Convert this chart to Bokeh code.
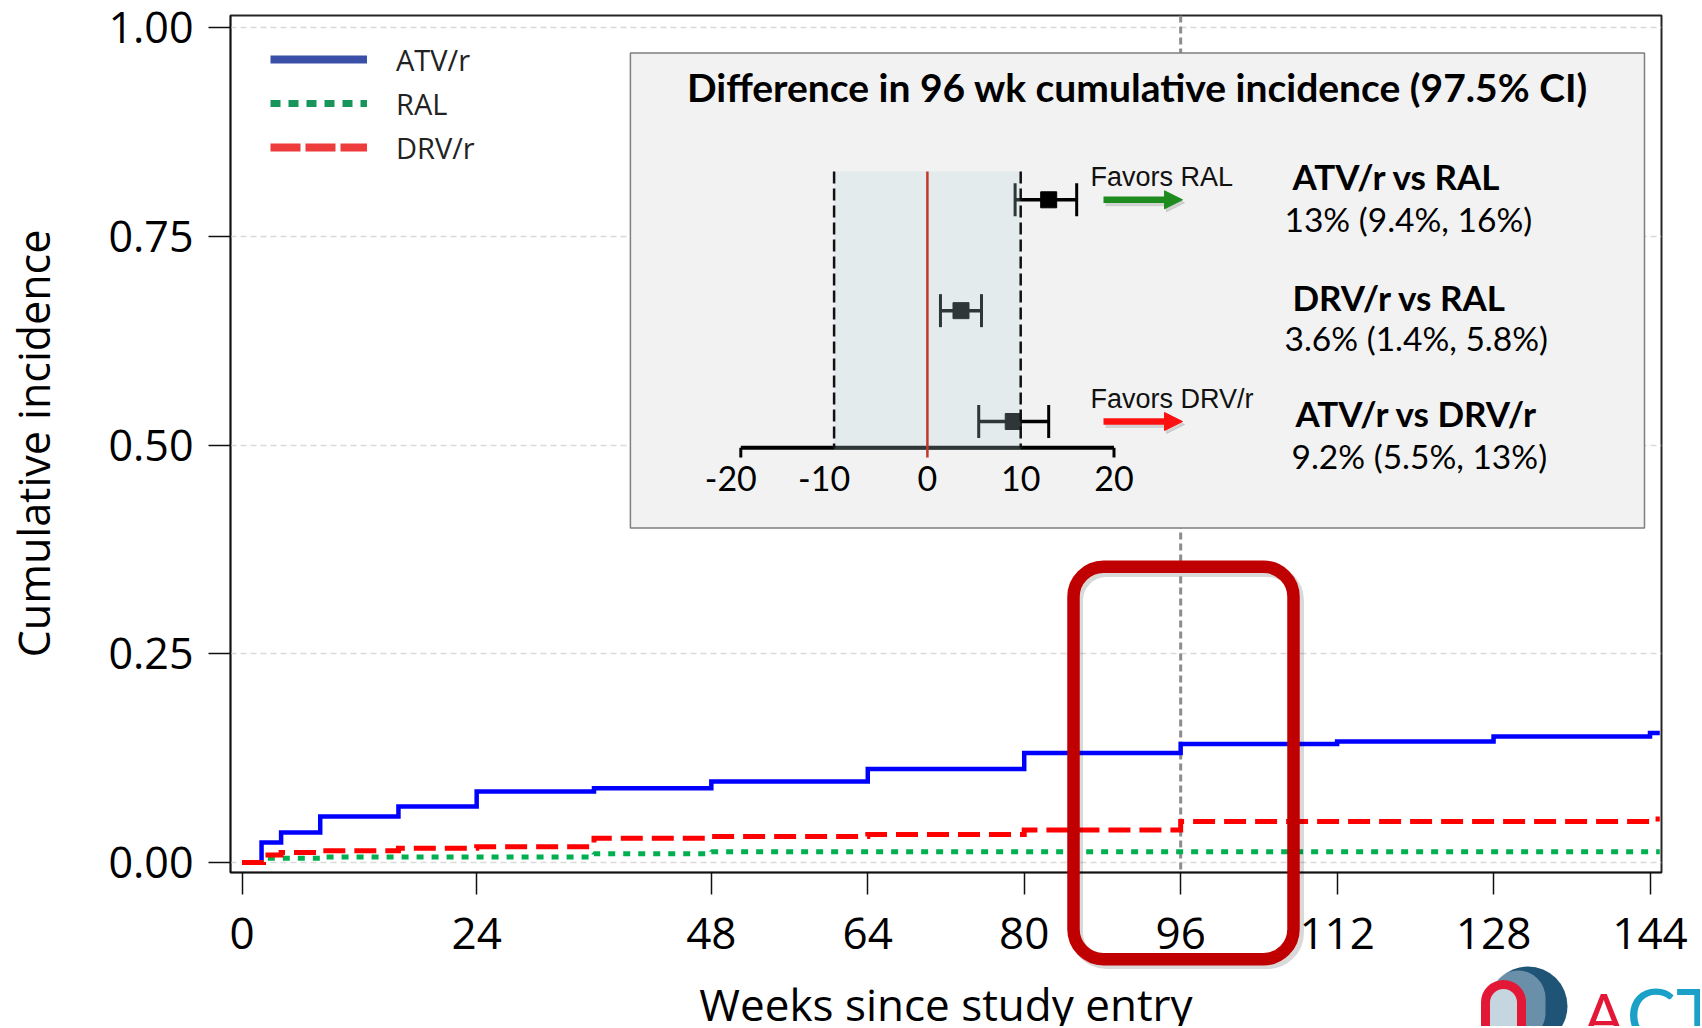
import math
from bokeh.plotting import figure
from bokeh.models import (Range1d, FixedTicker, PrintfTickFormatter, Span, BoxAnnotation,
                          Legend, LegendItem, Arrow, NormalHead)
from bokeh.core.properties import value
from bokeh.embed import file_html
from bokeh.resources import INLINE

# ---------------- data ----------------
atv_weeks = [0, 2, 4, 8, 16, 24, 36, 48, 64, 80, 96, 112, 128, 144, 145]
atv_inc = [0, 0.024, 0.036, 0.055, 0.067, 0.085, 0.089, 0.097, 0.112, 0.131, 0.142, 0.145, 0.151, 0.155, 0.155]
ral_weeks = [0, 2.5, 8, 36, 48, 145]
ral_inc = [0, 0.005, 0.0065, 0.0105, 0.013, 0.013]
drv_weeks = [0, 2.2, 4, 8, 16, 24, 36, 48, 64, 80, 96, 144, 145]
drv_inc = [0, 0.009, 0.012, 0.014, 0.017, 0.019, 0.029, 0.031, 0.0335, 0.039, 0.049, 0.052, 0.052]

series_names = ["ATV/r", "RAL", "DRV/r"]
x_ticks = [0, 24, 48, 64, 80, 96, 112, 128, 144]
y_ticks = [0, 0.25, 0.5, 0.75, 1.0]
landmark_week = 96
x_title = "Weeks since study entry"
y_title = "Cumulative incidence"

inset_title = "Difference in 96 wk cumulative incidence (97.5% CI)"
comparisons = ["ATV/r vs RAL", "DRV/r vs RAL", "ATV/r vs DRV/r"]
diff_est = [13, 3.6, 9.2]
diff_lo = [9.4, 1.4, 5.5]
diff_hi = [16, 5.8, 13]
diff_text = ["13% (9.4%, 16%)", "3.6% (1.4%, 5.8%)", "9.2% (5.5%, 13%)"]
margin_lo, margin_hi = -10, 10
forest_ticks = [-20, -10, 0, 10, 20]
favors_text = ["Favors RAL", "Favors DRV/r"]
favors_row = [0, 2]
favors_color = ["#1E8B1E", "#FF1010"]

# ---------------- layout (reference-image pixels) ----------------
W, H = 1700, 1026
FRAME_L, FRAME_R, FRAME_T, FRAME_B = 230, 1661, 15, 872
X0_PX, X_PPW = 241.5, 9.7778
Y0_PX, Y_PPU = 862.0, 835.0
FX0_PX, FX_PPU = 926.9, 9.33
ROW0_PX, ROW_PX = 199.3, 110.85
NAN = float("nan")


def mx(px):
    return (px - X0_PX) / X_PPW


def my(py):
    return (Y0_PX - py) / Y_PPU


def fx(px):
    return (px - FX0_PX) / FX_PPU


def fr(py):
    return (py - ROW0_PX) / ROW_PX


p = figure(width=W, height=H, title=None,
           x_range=Range1d(mx(FRAME_L), mx(FRAME_R)),
           y_range=Range1d(my(FRAME_B), my(FRAME_T)),
           output_backend="svg", toolbar_location=None,
           min_border_left=FRAME_L, min_border_right=W - FRAME_R,
           min_border_top=FRAME_T, min_border_bottom=H - FRAME_B)
p.extra_x_ranges = {"fx": Range1d(fx(FRAME_L), fx(FRAME_R))}
p.extra_y_ranges = {"fy": Range1d(fr(FRAME_B), fr(FRAME_T))}

p.background_fill_color = "white"
p.border_fill_color = "white"
p.outline_line_color = "#262626"
p.outline_line_width = 2

for ax in (p.xaxis, p.yaxis):
    ax.axis_line_color = "#111111"
    ax.axis_line_width = 1.5
    ax.major_tick_line_color = "#111111"
    ax.major_tick_line_width = 1.5
    ax.major_tick_out = 22
    ax.major_tick_in = 0
    ax.minor_tick_line_color = None
    ax.major_label_text_font = "Open Sans"
    ax.major_label_text_color = "black"
    ax.axis_label = None

p.xaxis.ticker = FixedTicker(ticks=x_ticks)
p.xaxis.major_label_text_font_size = "44px"
p.xaxis.major_label_standoff = 23
p.yaxis.ticker = FixedTicker(ticks=y_ticks)
p.yaxis.formatter = PrintfTickFormatter(format="%.2f")
p.yaxis.major_label_text_font_size = "43px"
p.yaxis.major_label_standoff = 15

p.xgrid.visible = False
p.ygrid.ticker = FixedTicker(ticks=y_ticks)
p.ygrid.grid_line_color = "#d9d9d9"
p.ygrid.grid_line_width = 1.5
p.ygrid.grid_line_dash = "6 4"

p.add_layout(Span(location=landmark_week, dimension="height", line_color="#8c8c8c",
                  line_width=3, line_dash="7 4", level="underlay"))

# ---------------- curves ----------------
p.step(atv_weeks, atv_inc, mode="after", line_color="#0000FF", line_width=4.5, line_join="miter")
p.step(ral_weeks, ral_inc, mode="after", line_color="#00B050", line_width=5, line_dash="7 8")
p.step(drv_weeks, drv_inc, mode="after", line_color="#FF0000", line_width=5, line_dash="22 9",
       line_join="miter")

# legend (sample lines in legend colours)
lg1 = p.line([NAN, NAN], [NAN, NAN], line_color="#3A50A8", line_width=8)
lg2 = p.line([NAN, NAN], [NAN, NAN], line_color="#17955B", line_width=7, line_dash="10 8")
lg3 = p.line([NAN, NAN], [NAN, NAN], line_color="#EE3B3B", line_width=8, line_dash="30 5")
legend = Legend(items=[LegendItem(label=series_names[0], renderers=[lg1]),
                       LegendItem(label=series_names[1], renderers=[lg2]),
                       LegendItem(label=series_names[2], renderers=[lg3])],
                location=(40, 703), glyph_width=97, glyph_height=44, label_standoff=29,
                spacing=0, padding=0, margin=0, label_text_font="Open Sans",
                label_text_font_size="29px", label_text_color="#222222",
                background_fill_alpha=0, border_line_alpha=0)
p.add_layout(legend)

# ---------------- inset ----------------
p.quad(left=mx(629.9), right=mx(1644), top=my(52.5), bottom=my(527.5),
       fill_color="#F2F2F2", line_color="#7F7F7F", line_width=1.5)
p.text(x=[mx((629.9 + 1644) / 2)], y=[my(86.5)], text=[inset_title], text_font=value("Lato"),
       text_font_style="bold", text_font_size="39px", text_align="center",
       text_baseline="middle", text_color="black")

FR = dict(x_range_name="fx", y_range_name="fy")
rows = list(range(len(comparisons)))
axis_y = fr(447.3)
p.segment(x0=forest_ticks[0], x1=forest_ticks[-1], y0=axis_y, y1=axis_y,
          line_color="black", line_width=4, **FR)
p.segment(x0=[forest_ticks[0], forest_ticks[-1]], x1=[forest_ticks[0], forest_ticks[-1]],
          y0=axis_y, y1=fr(457), line_color="black", line_width=3, **FR)
p.text(x=forest_ticks, y=fr(478), text=[str(t) for t in forest_ticks],
       x_offset=[-10 if t < 0 else 0 for t in forest_ticks],
       text_font=value("Lato"), text_font_size="34px", text_align="center",
       text_baseline="middle", text_color="black", **FR)

cap_h = 16.5 / ROW_PX
p.segment(x0=diff_lo, x1=diff_hi, y0=rows, y1=rows, line_color="black", line_width=3.5, **FR)
p.segment(x0=diff_lo, x1=diff_lo, y0=[r - cap_h for r in rows], y1=[r + cap_h for r in rows],
          line_color="black", line_width=3, **FR)
p.segment(x0=diff_hi, x1=diff_hi, y0=[r - cap_h for r in rows], y1=[r + cap_h for r in rows],
          line_color="black", line_width=3, **FR)
p.scatter(diff_est, rows, marker="square", size=16, fill_color="black", line_color="black", **FR)

# translucent non-inferiority band drawn over the bars
p.quad(left=margin_lo, right=margin_hi, top=fr(171), bottom=fr(449),
       fill_color=(186, 214, 218), fill_alpha=0.25, line_alpha=0, **FR)
p.segment(x0=[margin_lo, margin_hi], x1=[margin_lo, margin_hi], y0=fr(171), y1=axis_y,
          line_color="#111111", line_width=2.5, line_dash="12 5", **FR)
p.segment(x0=0, x1=0, y0=fr(171), y1=fr(457), line_color="#C0392B", line_width=2.5, **FR)

for txt, row, col in zip(favors_text, favors_row, favors_color):
    p.add_layout(Arrow(end=NormalHead(size=18, fill_color="#999999", line_color="#999999",
                                      fill_alpha=0.35, line_alpha=0.35),
                       x_start=fx(1105), x_end=fx(1184), y_start=row + 3 / ROW_PX,
                       y_end=row + 3 / ROW_PX, line_color="#999999", line_alpha=0.35,
                       line_width=7, **FR))
    p.add_layout(Arrow(end=NormalHead(size=18, fill_color=col, line_color=col),
                       x_start=fx(1103), x_end=fx(1182), y_start=row, y_end=row,
                       line_color=col, line_width=6.5, **FR))
    p.text(x=[fx(1090)], y=[row - 23 / ROW_PX], text=[txt], text_font=value("Liberation Sans"),
           text_font_size="27px", text_align="left", text_baseline="middle",
           text_color="#111111", **FR)

label_dy = [-24, -14, -9]
value_dy = [19, 27, 34]
label_px = [1292, 1292, 1295]
value_px = [1284, 1284, 1291]
p.text(x=[fx(v) for v in label_px], y=[r + d / ROW_PX for r, d in zip(rows, label_dy)],
       text=comparisons, text_font=value("Lato"), text_font_style="bold", text_font_size="35px",
       text_align="left", text_baseline="middle", text_color="black", **FR)
p.text(x=[fx(v) for v in value_px], y=[r + d / ROW_PX for r, d in zip(rows, value_dy)],
       text=diff_text, text_font=value("Lato"), text_font_size="33.5px",
       text_align="left", text_baseline="middle", text_color="black", **FR)

# ------------- transparent overlay figure (same pixel mapping, whole canvas is its frame) -------------
q = figure(width=W, height=H, title=None,
           x_range=Range1d(mx(0), mx(W)), y_range=Range1d(my(H), my(0)),
           output_backend="svg", toolbar_location=None,
           x_axis_location=None, y_axis_location=None,
           min_border=0, margin=(-H, 0, 0, 0))
q.grid.visible = False
q.outline_line_color = None
q.background_fill_alpha = 0
q.border_fill_alpha = 0

# axis titles
q.text(x=[mx(33)], y=[my(443)], text=[y_title], angle=math.pi / 2, text_font=value("Open Sans"),
       text_font_size="43px", text_align="center", text_baseline="middle", text_color="black")
q.text(x=[mx(945.5)], y=[my(1003)], text=[x_title], text_font=value("Open Sans"),
       text_font_size="44px", text_align="center", text_baseline="middle", text_color="black")

# highlight box around week 96
q.add_layout(BoxAnnotation(left=mx(1076), right=mx(1297), top=my(570), bottom=my(962),
                           fill_alpha=0, line_color="black", line_alpha=0.15, line_width=13,
                           border_radius=30))
q.add_layout(BoxAnnotation(left=mx(1073), right=mx(1293), top=my(566.3), bottom=my(958.7),
                           fill_alpha=0, line_color="#C00000", line_alpha=1, line_width=12.5,
                           border_radius=30))

# logo fragment
q.add_layout(BoxAnnotation(left=mx(1488), right=mx(1567), top=my(966), bottom=my(1045),
                           fill_color="#1F5477", fill_alpha=1, line_alpha=0, border_radius=40))
q.add_layout(BoxAnnotation(left=mx(1490), right=mx(1545), top=my(970), bottom=my(1040),
                           fill_color="#9DB9CB", fill_alpha=0.6, line_alpha=0, border_radius=30))
q.add_layout(BoxAnnotation(left=mx(1485), right=mx(1521), top=my(984), bottom=my(1066),
                           fill_color="#C5D6E0", fill_alpha=1, line_color="#E31837",
                           line_alpha=1, line_width=9, border_radius=18))
q.text(x=[mx(1583)], y=[my(1013)], text=["A"], text_font=value("Lato"), text_font_size="60px",
       text_color="#E31837", text_baseline="middle", text_align="left")
q.text(x=[mx(1626)], y=[my(1013)], text=["CT"], text_font=value("Lato"), text_font_size="74px",
       text_color="#1BA1C7", text_baseline="middle", text_align="left")

open("out.html", "w").write(file_html([p, q], INLINE))
